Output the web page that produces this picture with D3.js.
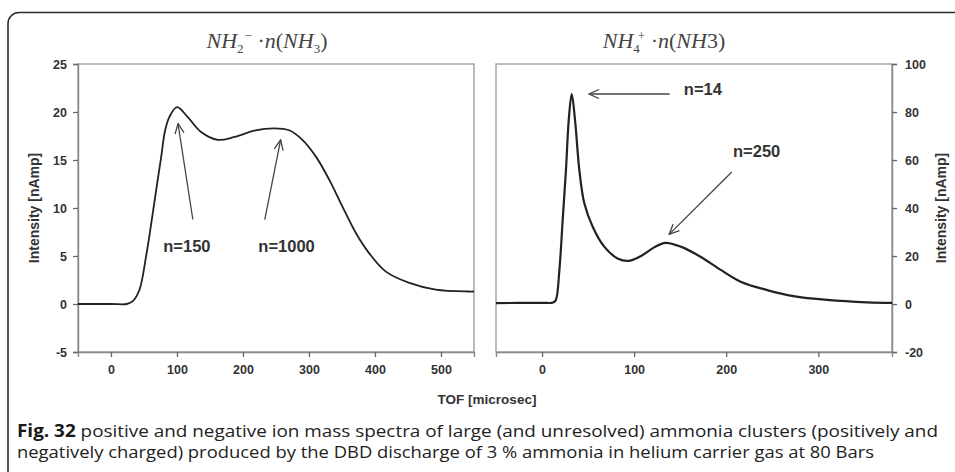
<!DOCTYPE html>
<html lang="en">
<head>
<meta charset="UTF-8">
<title>Ammonia cluster spectra</title>
<style>
  body { margin: 0; background: #fff; }
  .tick text { font-family: Arial, "Liberation Sans", sans-serif; font-weight: bold; font-size: 12.5px; fill: #333; }
  .lab { font-family: Arial, "Liberation Sans", sans-serif; font-weight: bold; fill: #333; }
  .ttl { font-family: "Liberation Serif", "Times New Roman", serif; font-size: 22px; fill: #444; }
  .cap { font-family: "Open Sans", "Noto Sans", sans-serif; font-size: 17px; fill: #222; }
</style>
<script src="https://cdn.jsdelivr.net/npm/d3@7"></script>
</head>
<body>
<svg id="chart" width="955" height="472"></svg>
<script>
// negative ions, NH2- . n(NH3)
var negX = [-50, 0, 24, 33, 43, 53, 61, 68.5, 76, 82, 88.6, 100, 116, 136, 162, 187, 217, 247, 270, 290, 311, 331, 351, 371, 391, 416, 452, 492, 542, 550];
var negY = [0, 0, 0, 0.3, 1.46, 4.9, 8.4, 11.9, 15.3, 18.1, 19.5, 20.5, 19.5, 17.95, 17.1, 17.4, 18.05, 18.3, 18.1, 17.1, 15.3, 12.9, 10.1, 7.4, 5.3, 3.4, 2.2, 1.5, 1.3, 1.3];
// positive ions, NH4+ . n(NH3)
var posX = [-50, 0, 12, 15, 18.8, 22.4, 26, 29, 32.2, 35.8, 40.5, 45.9, 55, 67.5, 82, 94.6, 107, 121.7, 134, 150.6, 172, 194, 215.6, 244.5, 273, 309.5, 353, 380];
var posY = [0.4, 0.5, 0.6, 1.7, 14, 35, 56, 76.7, 87.5, 76.7, 55.8, 42, 32.2, 23.9, 19, 18, 19.9, 23.6, 25.5, 23.9, 19.7, 14.2, 9.3, 5.8, 3.3, 1.7, 0.7, 0.5];

var negTicksX = [0, 100, 200, 300, 400, 500];
var negTicksY = [-5, 0, 5, 10, 15, 20, 25];
var posTicksX = [0, 100, 200, 300];
var posTicksY = [-20, 0, 20, 40, 60, 80, 100];

var svg = d3.select("#chart");

// outer figure frame
svg.append("rect")
  .attr("x", 8).attr("y", 12.5).attr("width", 1000).attr("height", 520)
  .attr("rx", 11)
  .attr("fill", "none").attr("stroke", "#2b2b2b").attr("stroke-width", 1.6);

var plotTop = 64, plotBottom = 352;
var fmt = function(d) { return String(d); };   // plain hyphen for negatives

function panel(opt) {
  var x = d3.scaleLinear().domain(opt.xDomain).range([opt.left, opt.right]);
  var y = d3.scaleLinear().domain(opt.yDomain).range([plotBottom, plotTop]);

  svg.append("rect")
    .attr("x", opt.left).attr("y", plotTop)
    .attr("width", opt.right - opt.left).attr("height", plotBottom - plotTop)
    .attr("fill", "none").attr("stroke", "#a0a0a0").attr("stroke-width", 1.4);

  var xa = svg.append("g")
    .attr("transform", "translate(0," + plotBottom + ")")
    .call(d3.axisBottom(x).tickValues(opt.xTicks).tickSize(5).tickPadding(8).tickFormat(fmt));
  var ya;
  if (opt.side === "left") {
    ya = svg.append("g").attr("transform", "translate(" + opt.left + ",0)")
      .call(d3.axisLeft(y).tickValues(opt.yTicks).tickSize(5).tickPadding(6).tickFormat(fmt));
  } else {
    ya = svg.append("g").attr("transform", "translate(" + opt.right + ",0)")
      .call(d3.axisRight(y).tickValues(opt.yTicks).tickSize(5).tickPadding(8).tickFormat(fmt));
  }
  [xa, ya].forEach(function(g) {
    g.select(".domain").attr("stroke", "#888").attr("stroke-width", 1.4);
    g.selectAll(".tick line").attr("stroke", "#666").attr("stroke-width", 1.3);
  });

  var line = d3.line()
    .x(function(d) { return x(d[0]); })
    .y(function(d) { return y(d[1]); })
    .curve(d3.curveCatmullRom.alpha(0.5));

  svg.append("path")
    .datum(d3.zip(opt.xs, opt.ys))
    .attr("d", line)
    .attr("fill", "none").attr("stroke", "#222").attr("stroke-width", opt.lw)
    .attr("stroke-linejoin", "round");

  return { x: x, y: y };
}

var L = panel({ left: 78, right: 474, xDomain: [-50, 550], yDomain: [-5, 25],
  xTicks: negTicksX, yTicks: negTicksY, xs: negX, ys: negY, side: "left", lw: 1.8 });
var R = panel({ left: 496, right: 892, xDomain: [-50, 380], yDomain: [-20, 100],
  xTicks: posTicksX, yTicks: posTicksY, xs: posX, ys: posY, side: "right", lw: 2.2 });

// arrows
var defs = svg.append("defs");
defs.append("marker")
  .attr("id", "ah").attr("viewBox", "0 0 12 12")
  .attr("refX", 11).attr("refY", 6)
  .attr("markerWidth", 12).attr("markerHeight", 12)
  .attr("markerUnits", "userSpaceOnUse")
  .attr("orient", "auto")
  .append("path").attr("d", "M1,1.5 L11,6 L1,10.5")
  .attr("fill", "none").attr("stroke", "#444").attr("stroke-width", 1.3);

function arrow(s, x1, y1, x2, y2) {
  svg.append("line")
    .attr("x1", s.x(x1)).attr("y1", s.y(y1))
    .attr("x2", s.x(x2)).attr("y2", s.y(y2))
    .attr("stroke", "#444").attr("stroke-width", 1.3)
    .attr("marker-end", "url(#ah)");
}
function label(s, xv, yv, t, anchor) {
  svg.append("text").attr("class", "lab")
    .attr("x", s.x(xv)).attr("y", s.y(yv))
    .attr("text-anchor", anchor || "middle")
    .attr("dominant-baseline", "middle")
    .attr("font-size", 16.5).text(t);
}

arrow(L, 124, 8.8, 101.5, 18.8);
arrow(L, 233, 8.8, 257, 17.1);
label(L, 115, 5.9, "n=150");
label(L, 266, 5.9, "n=1000");

arrow(R, 138.5, 87.5, 51, 87.5);
arrow(R, 206, 55, 138, 29);
label(R, 154, 89, "n=14", "start");
label(R, 233, 63, "n=250");

// titles
var t1 = svg.append("text").attr("class", "ttl").attr("text-anchor", "middle")
  .attr("x", 267).attr("y", 48);
t1.append("tspan").attr("font-style", "italic").text("NH");
t1.append("tspan").attr("font-size", 13).attr("dy", 5).text("2");
t1.append("tspan").attr("font-size", 13).attr("dy", -13).attr("dx", 1).text("\u2212");
t1.append("tspan").attr("dy", 8).text(" \u00b7");
t1.append("tspan").attr("font-style", "italic").text("n");
t1.append("tspan").text("(");
t1.append("tspan").attr("font-style", "italic").text("NH");
t1.append("tspan").attr("font-size", 13).attr("dy", 5).text("3");
t1.append("tspan").attr("dy", -5).text(")");

var t2 = svg.append("text").attr("class", "ttl").attr("text-anchor", "middle")
  .attr("x", 664).attr("y", 48);
t2.append("tspan").attr("font-style", "italic").text("NH");
t2.append("tspan").attr("font-size", 13).attr("dy", 5).text("4");
t2.append("tspan").attr("font-size", 13).attr("dy", -13).attr("dx", -2).text("+");
t2.append("tspan").attr("dy", 8).text(" \u00b7");
t2.append("tspan").attr("font-style", "italic").text("n");
t2.append("tspan").text("(");
t2.append("tspan").attr("font-style", "italic").text("NH");
t2.append("tspan").text("3)");

// axis titles
svg.append("text").attr("class", "lab").attr("font-size", 14)
  .attr("text-anchor", "middle")
  .attr("transform", "translate(39,208) rotate(-90)").text("Intensity [nAmp]");
svg.append("text").attr("class", "lab").attr("font-size", 14)
  .attr("text-anchor", "middle")
  .attr("transform", "translate(946,208) rotate(-90)").text("Intensity [nAmp]");
svg.append("text").attr("class", "lab").attr("font-size", 13.5)
  .attr("text-anchor", "middle").attr("x", 487).attr("y", 404).text("TOF [microsec]");

// caption
var c1 = svg.append("text").attr("class", "cap").attr("x", 17).attr("y", 437)
  .attr("textLength", 921).attr("lengthAdjust", "spacingAndGlyphs");
c1.append("tspan").attr("font-weight", "bold").attr("fill", "#1a1a1a").text("Fig. 32");
c1.append("tspan").text(" positive and negative ion mass spectra of large (and unresolved) ammonia clusters (positively and");
svg.append("text").attr("class", "cap").attr("x", 17).attr("y", 458)
  .attr("textLength", 857).attr("lengthAdjust", "spacingAndGlyphs")
  .text("negatively charged) produced by the DBD discharge of 3 % ammonia in helium carrier gas at 80 Bars");
</script>
</body>
</html>
